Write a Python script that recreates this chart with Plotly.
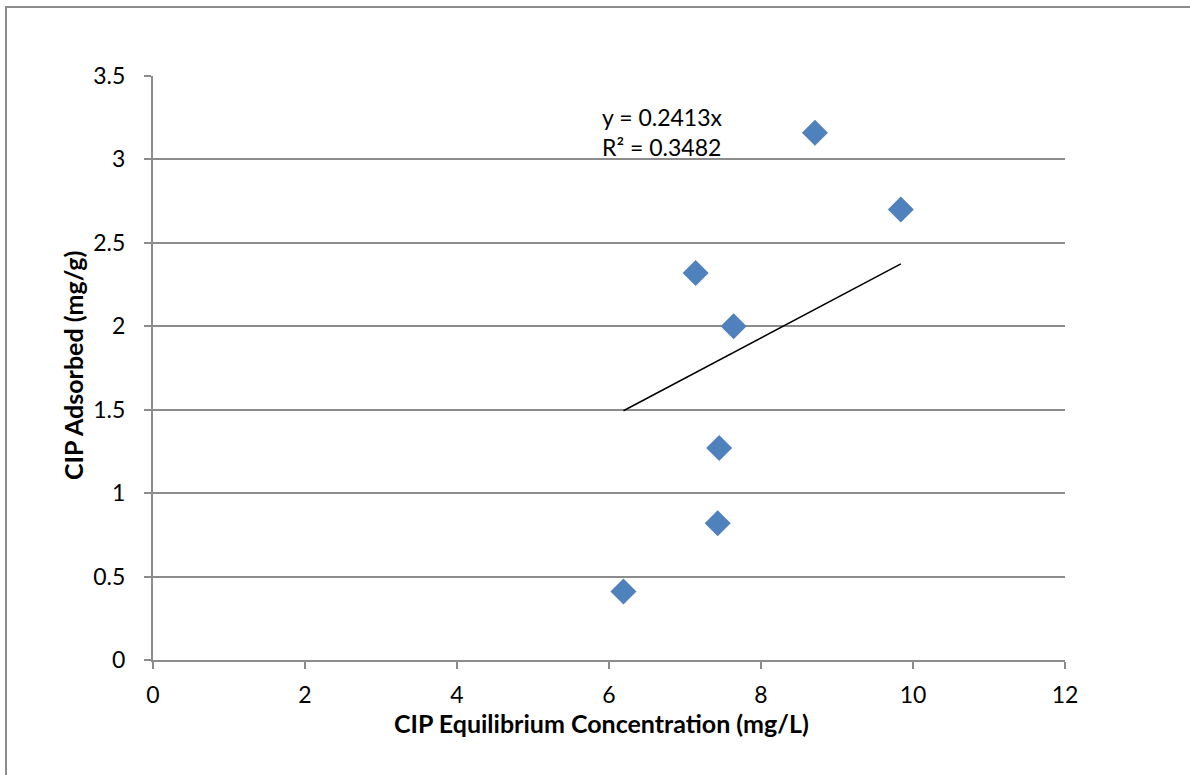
import plotly.graph_objects as go

# Data
x_conc = [6.19, 7.43, 7.45, 7.64, 7.14, 8.71, 9.84]
y_ads = [0.41, 0.82, 1.27, 2.00, 2.32, 3.16, 2.70]
slope = 0.2413
r2 = 0.3482
x_ticks = [0, 2, 4, 6, 8, 10, 12]
y_ticks = [0, 0.5, 1, 1.5, 2, 2.5, 3, 3.5]

W, H = 1190, 775
L, R, T, B = 153, 125, 76, 115
pw, ph = W - L - R, H - T - B

def px(xp):
    return (xp - L) / pw

def py(yp):
    return (H - B - yp) / ph

FONT = "Lato"
grid_c = "#8c8c8c"

fig = go.Figure()
fig.add_trace(go.Scatter(
    x=x_conc, y=y_ads, mode="markers",
    marker=dict(symbol="diamond", size=20, color="#4f81bd", line=dict(width=0)),
    showlegend=False,
))
x_line = [min(x_conc), max(x_conc)]
fig.add_trace(go.Scatter(
    x=x_line, y=[slope * v for v in x_line], mode="lines",
    line=dict(color="black", width=1.5), showlegend=False,
))

fig.update_layout(
    width=W, height=H,
    margin=dict(l=L, r=R, t=T, b=B),
    paper_bgcolor="white", plot_bgcolor="white",
    font=dict(family=FONT, size=23, color="black"),
    xaxis=dict(
        range=[0, 12], tickvals=x_ticks, ticktext=[str(v) for v in x_ticks],
        showgrid=False, zeroline=False, showline=True, linecolor=grid_c, linewidth=2,
        ticks="outside", ticklen=7, tickcolor=grid_c, tickwidth=2,
        ticklabelstandoff=6,
        tickfont=dict(family=FONT, size=23, color="black"), fixedrange=True,
    ),
    yaxis=dict(
        range=[0, 3.5], tickvals=y_ticks, ticktext=[f"{v:g}" for v in y_ticks],
        showgrid=True, gridcolor=grid_c, gridwidth=2, zeroline=False,
        showline=True, linecolor=grid_c, linewidth=2,
        ticks="outside", ticklen=7, tickcolor=grid_c, tickwidth=2,
        ticklabelstandoff=14,
        tickfont=dict(family=FONT, size=23, color="black"), fixedrange=True,
    ),
    annotations=[
        dict(text="CIP Equilibrium Concentration (mg/L)", xref="paper", yref="paper",
             x=px(601), y=py(723), xanchor="center", yanchor="middle", showarrow=False,
             font=dict(family=FONT, size=25, color="black", weight="bold")),
        dict(text="CIP Adsorbed (mg/g)", xref="paper", yref="paper",
             x=px(73), y=py(366), xanchor="center", yanchor="middle",
             showarrow=False, textangle=-90,
             font=dict(family=FONT, size=25, color="black", weight="bold")),
        dict(text=f"y = {slope}x<br>R² = {r2}", xref="paper", yref="paper",
             x=px(600), y=py(132), xanchor="left", yanchor="middle",
             showarrow=False, align="left",
             font=dict(family=FONT, size=23, color="black")),
    ],
    shapes=[
        dict(type="rect", xref="paper", yref="paper",
             x0=px(6), x1=px(1200), y0=py(7), y1=py(790),
             line=dict(color="#8c8c8c", width=2), fillcolor="rgba(0,0,0,0)"),
    ],
)

fig.write_html("out.html")
